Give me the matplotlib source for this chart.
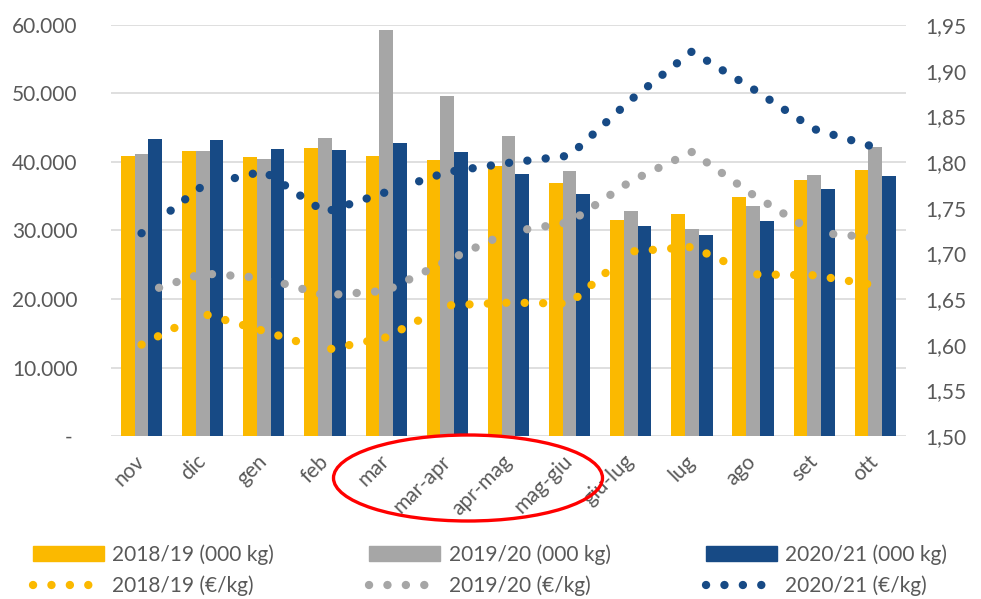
import matplotlib
matplotlib.use("Agg")
import matplotlib.pyplot as plt
from matplotlib.patches import Ellipse, Patch
from matplotlib.lines import Line2D
from matplotlib.ticker import FuncFormatter, MultipleLocator
import numpy as np

plt.rcParams['font.family'] = ['Lato', 'DejaVu Sans']

# categorie (mesi / bimestri)
mesi = ["nov", "dic", "gen", "feb", "mar", "mar-apr", "apr-mag", "mag-giu",
        "giu-lug", "lug", "ago", "set", "ott"]

# quantita' (000 kg)
q_1819 = [40900, 41600, 40700, 42080, 40860, 40230, 39400, 36960, 31510, 32350, 34830, 37400, 38860]
q_1920 = [41150, 41600, 40470, 43450, 59310, 49670, 43780, 38720, 32780, 30240, 33600, 38040, 42220]
q_2021 = [43300, 43150, 41840, 41780, 42720, 41400, 38230, 35360, 30640, 29370, 31370, 36000, 37900]

# prezzi (euro/kg)
p_1819 = [1.600, 1.634, 1.615, 1.594, 1.608, 1.643, 1.646, 1.645, 1.702, 1.707, 1.677, 1.676, 1.665]
p_1920 = [1.656, 1.678, 1.673, 1.654, 1.659, 1.692, 1.723, 1.734, 1.779, 1.811, 1.764, 1.723, 1.717]
p_2021 = [1.722, 1.774, 1.790, 1.745, 1.767, 1.789, 1.799, 1.807, 1.868, 1.921, 1.880, 1.836, 1.816]

giallo = "#FBB900"
grigio = "#A6A6A6"
blu = "#174A85"
testo = "#595959"

fig = plt.figure(figsize=(9.81, 5.99), dpi=100)
ax = fig.add_axes([0.1131, 0.2721, 0.8104, 0.6862])
ax2 = ax.twinx()

x = np.arange(len(mesi))
w = 0.225
ax.bar(x - w, q_1819, w, color=giallo, zorder=2)
ax.bar(x, q_1920, w, color=grigio, zorder=2)
ax.bar(x + w, q_2021, w, color=blu, zorder=2)

ax.set_xlim(-0.5, len(mesi) - 0.5)
ax.set_ylim(0, 60000)
ax.yaxis.set_major_locator(MultipleLocator(10000))
ax.yaxis.set_major_formatter(FuncFormatter(
    lambda v, p: "- " if v == 0 else f"{v:,.0f}".replace(",", ".")))
ax.grid(axis="y", color="#D9D9D9", linewidth=1.2, zorder=0)
ax.set_axisbelow(True)
for s in ax.spines.values():
    s.set_visible(False)
for s in ax2.spines.values():
    s.set_visible(False)
ax.tick_params(axis="y", length=0, pad=24, labelsize=15, labelcolor=testo)
ax.set_xticks(x)
ax.set_xticklabels(mesi, rotation=45, ha="right", va="center", rotation_mode="anchor")
ax.tick_params(axis="x", length=0, pad=16, labelsize=15, labelcolor=testo)

stile = dict(linewidth=6, linestyle=(0, (0.01, 2.2)), dash_capstyle="round")
ax2.plot(x, p_1819, color=giallo, **stile)
ax2.plot(x, p_1920, color=grigio, **stile)
ax2.plot(x, p_2021, color=blu, **stile)
ax2.set_ylim(1.50, 1.95)
ax2.yaxis.set_major_locator(MultipleLocator(0.05))
ax2.yaxis.set_major_formatter(FuncFormatter(lambda v, p: f"{v:.2f}".replace(".", ",")))
ax2.tick_params(axis="y", length=0, pad=14, labelsize=15, labelcolor=testo)

# cerchio rosso attorno ai bimestri
fig.patches.append(Ellipse((468 / 981, 1 - 478 / 599), 269 / 981, 86 / 599,
                           transform=fig.transFigure, fill=False,
                           edgecolor="red", linewidth=2.4))

handles = [
    Patch(color=giallo), Line2D([], [], color=giallo, **stile),
    Patch(color=grigio), Line2D([], [], color=grigio, **stile),
    Patch(color=blu), Line2D([], [], color=blu, **stile),
]
labels = ["2018/19 (000 kg)", "2018/19 (€/kg)",
          "2019/20 (000 kg)", "2019/20 (€/kg)",
          "2020/21 (000 kg)", "2020/21 (€/kg)"]
leg = fig.legend(handles, labels, ncol=3, loc="lower left",
                 bbox_to_anchor=(30 / 981, 0.0, 920 / 981, 0.13), mode="expand",
                 frameon=False, fontsize=15, handlelength=3.4, handletextpad=0.4,
                 labelspacing=0.5, borderaxespad=0.0, borderpad=0.15)
for t in leg.get_texts():
    t.set_color(testo)

plt.savefig("out.png", dpi=100)
